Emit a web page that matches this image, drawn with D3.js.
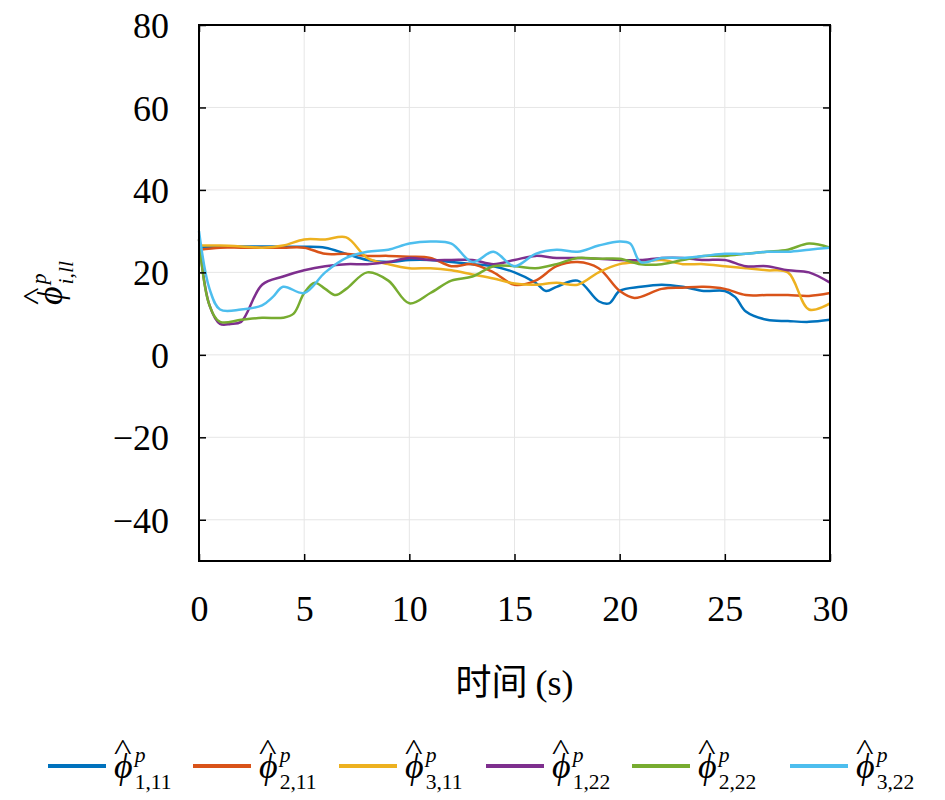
<!DOCTYPE html>
<html>
<head>
<meta charset="UTF-8">
<script src="https://d3js.org/d3.v7.min.js"></script>
<style>body{margin:0;background:#fff}text{font-family:"Liberation Serif","DejaVu Serif",serif}</style>
</head>
<body>
<svg width="945" height="800"></svg>
<script>
// data: [time, value] pairs per series
const phi111 = [[0,26],[1,26.3],[2,26.3],[3,26.3],[4,26.2],[5,26.2],[6,26],[7,24.5],[8,23],[9,22.5],[10,23],[11,23],[12,22.5],[13,22],[14,21.5],[15,20],[16,17.5],[16.5,15.5],[17,16.5],[18,18],[19,13],[19.5,12.5],[20,15.5],[21,16.5],[22,17],[23,16.5],[24,15.5],[25,15.5],[25.5,14],[26,10.5],[27,8.5],[28,8.2],[29,8],[30,8.5]];
const phi211 = [[0,25.5],[1,26],[2,26],[3,26],[4,26],[5,26],[6,24.5],[7,24.5],[8,24],[9,24],[10,23.8],[11,23.5],[12,21.5],[13,22],[14,20],[15,17],[16,18],[17,21.5],[18,22.5],[19,21],[20,15.5],[20.7,13.8],[22,16],[23,16.3],[24,16.5],[25,16],[26,14.5],[27,14.5],[28,14.5],[29,14.3],[30,15]];
const phi311 = [[0,26.5],[1,26.5],[2,26.3],[3,26],[4,26.5],[5,28],[6,28],[7,28.5],[8,23.5],[9,22],[10,21],[11,21],[12,20.5],[13,19.5],[14,18.5],[15,17.3],[16,17],[17,17.5],[18,17],[19,20],[20,22],[21,22.5],[22,23],[23,22],[24,22],[25,21.5],[26,21],[27,20.5],[28,20],[29,11],[30,12.5]];
const phi122 = [[0,28],[0.5,12],[1,7.5],[1.5,7.5],[2,8],[3,17],[4,19],[5,20.5],[6,21.5],[7,22],[8,22],[9,22.5],[10,23.5],[11,23],[12,23],[13,23],[14,22],[15,23],[16,24],[17,23.5],[18,23.5],[19,23.3],[20,23],[21,23],[22,23.5],[23,23.5],[24,23],[25,23],[26,21.5],[27,21.5],[28,20.5],[29,20],[30,17.5]];
const phi222 = [[0,28],[0.5,12],[1,8],[2,8.5],[3,9],[4,9],[4.5,10],[5,15],[5.5,17.5],[6,16],[6.5,14.5],[7,16],[8,20],[9,18],[10,12.5],[11,15],[12,18],[13,19],[14,21.5],[15,21.5],[16,21],[17,22],[18,23.5],[19,23.3],[20,23.3],[21,22],[22,22],[23,23],[24,24],[25,24],[26,24.5],[27,25],[28,25.5],[29,27],[30,26]];
const phi322 = [[0,30],[0.5,16],[1,11],[2,11],[3,12],[3.5,14],[4,16.5],[5,15],[6,20],[7,23.5],[8,25],[9,25.5],[10,27],[11,27.5],[12,27],[13,22.5],[14,25],[15,21.5],[16,24.5],[17,25.5],[18,25],[19,26.5],[20,27.5],[20.5,27],[21,22.5],[22,23.5],[23,23.5],[24,24],[25,24.5],[26,24.5],[27,25],[28,25],[29,25.5],[30,26]];
const seriesData = [phi111, phi211, phi311, phi122, phi222, phi322];
const seriesSubs = ["1,11","2,11","3,11","1,22","2,22","3,22"];
const colors = ["#0072BD","#D95319","#EDB120","#7E2F8E","#77AC30","#4DBEEE"];
const xTicks = [0,5,10,15,20,25,30];
const yTicks = [-40,-20,0,20,40,60,80];

const svg = d3.select("svg");
const L = 199, R = 830, T = 25, B = 561;
const x = d3.scaleLinear().domain([0,30]).range([L,R]);
const y = d3.scaleLinear().domain([-50,80]).range([B,T]);
const serif = "Liberation Serif, DejaVu Serif, serif";

// grid
svg.append("g").selectAll("line").data(xTicks).join("line")
  .attr("x1", d => x(d)).attr("x2", d => x(d)).attr("y1", T).attr("y2", B)
  .attr("stroke", "#e6e6e6");
svg.append("g").selectAll("line").data(yTicks).join("line")
  .attr("y1", d => y(d)).attr("y2", d => y(d)).attr("x1", L).attr("x2", R)
  .attr("stroke", "#e6e6e6");

// lines
const line = d3.line().x(d => x(d[0])).y(d => y(d[1])).curve(d3.curveCatmullRom);
seriesData.forEach((s, i) => {
  svg.append("path").datum(s).attr("fill", "none")
    .attr("stroke", colors[i]).attr("stroke-width", 2.5).attr("d", line);
});

// axes with inward ticks
const fmt = d => d < 0 ? "\u2212" + Math.abs(d) : d;
const ax = (g) => g.call(s => s.select(".domain").remove()).selectAll("text")
  .attr("font-family", serif).attr("font-size", 36).attr("fill", "#000");
svg.append("g").attr("transform", `translate(0,${B})`)
  .call(d3.axisBottom(x).tickValues(xTicks).tickSize(-7).tickPadding(34).tickFormat(fmt)).call(ax);
svg.append("g").attr("transform", `translate(0,${T})`)
  .call(d3.axisTop(x).tickValues(xTicks).tickSize(-7).tickFormat("")).call(ax);
svg.append("g").attr("transform", `translate(${L},0)`)
  .call(d3.axisLeft(y).tickValues(yTicks).tickSize(-7).tickPadding(30).tickFormat(fmt)).call(ax)
  .selectAll("text").attr("dy", "0.35em");
svg.append("g").attr("transform", `translate(${R},0)`)
  .call(d3.axisRight(y).tickValues(yTicks).tickSize(-7).tickFormat("")).call(ax);
svg.selectAll(".tick line").attr("stroke", "#000").attr("stroke-width", 1.5);
svg.append("rect").attr("x", L).attr("y", T).attr("width", R - L).attr("height", B - T)
  .attr("fill", "none").attr("stroke", "#000").attr("stroke-width", 2);

// x label
const xl = svg.append("text").attr("x", (L + R) / 2).attr("y", 695).attr("text-anchor", "middle")
  .attr("font-size", 36);
xl.append("tspan").attr("font-family", "Noto Sans CJK SC").text("时间 ");
xl.append("tspan").attr("font-family", serif).text("(s)");

// phi-hat label helper
function phiLabel(g, sub, size) {
  const t = g.append("text").attr("font-size", size).attr("font-style", "italic");
  t.append("tspan").text("ϕ");
  t.append("tspan").attr("font-size", size * 0.6).attr("dy", -size * 0.45).attr("dx", 2).text("p");
  t.append("tspan").attr("font-size", size * 0.6).attr("font-style", sub.match(/\d/) ? "normal" : "italic")
    .attr("dx", -size * 0.3).attr("dy", size * 0.75).text(sub);
  g.append("text").attr("font-size", size * 0.8).attr("x", 0).attr("y", -size * 0.5).text("^")
    .attr("transform", `scale(1.3,1)`);
}

// y label
const yl = svg.append("g").attr("transform", "translate(62,305) rotate(-90)");
phiLabel(yl, "i,ll", 36);

// legend
const lx = [48, 193, 339, 486, 632, 790];
seriesSubs.forEach((s, i) => {
  const g = svg.append("g").attr("transform", `translate(${lx[i]},0)`);
  g.append("line").attr("x1", 0).attr("x2", 58).attr("y1", 766).attr("y2", 766)
    .attr("stroke", colors[i]).attr("stroke-width", 4);
  phiLabel(g.append("g").attr("transform", "translate(66,778)"), s, 36);
});
</script>
</body>
</html>
